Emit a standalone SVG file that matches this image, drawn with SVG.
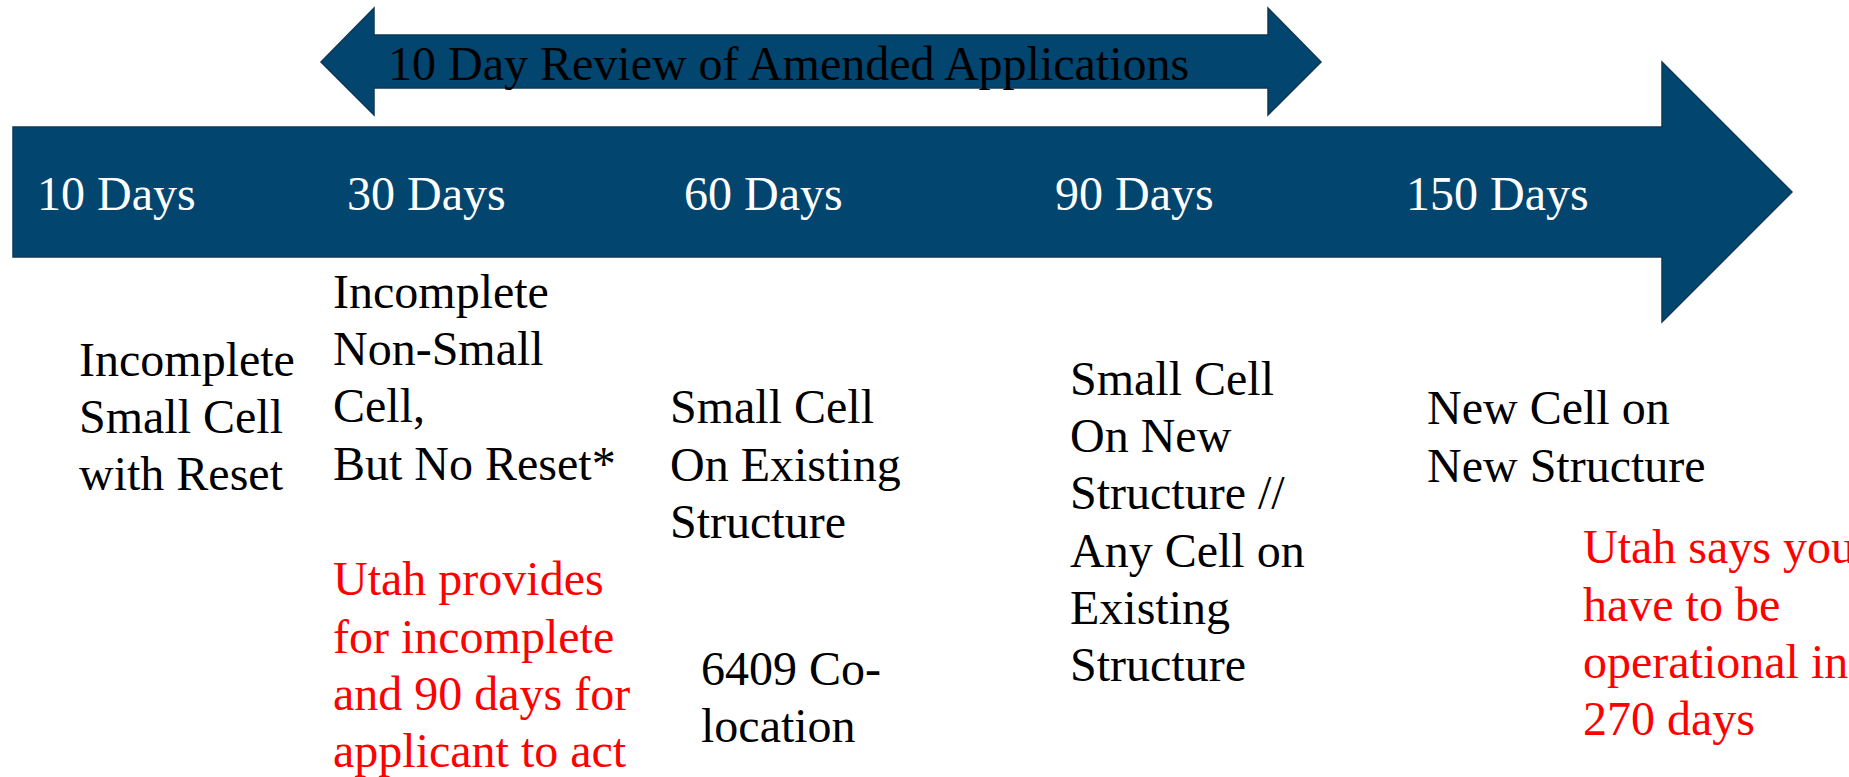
<svg xmlns="http://www.w3.org/2000/svg" width="1849" height="777" viewBox="0 0 1849 777">
<style>
.shape{fill:#02456F;stroke:#0E3858;stroke-width:1.5;stroke-linejoin:miter}
text{font-family:"Liberation Serif","Times New Roman",serif;font-size:48px}
.w{fill:#FFFFFF}
.k{fill:#000000}
.r{fill:#FF0000}
</style>
<rect width="1849" height="777" fill="#FFFFFF"/>
<g id="connectors">
<polygon id="timeline-arrow" class="shape" points="13,127 1662,127 1662,62 1792,192 1662,322 1662,257 13,257"/>
<polygon id="review-arrow" class="shape" points="321,62 374,8 374,35 1268,35 1268,8 1321,62 1268,115 1268,88 374,88 374,115"/>
</g>
<g id="review-label"><text class="k" x="388" y="80">10 Day Review of Amended Applications</text></g>
<g id="tick-10"><text class="w" x="37" y="210">10 Days</text></g>
<g id="tick-30"><text class="w" x="347" y="210">30 Days</text></g>
<g id="tick-60"><text class="w" x="684" y="210">60 Days</text></g>
<g id="tick-90"><text class="w" x="1055" y="210">90 Days</text></g>
<g id="tick-150"><text class="w" x="1406" y="210">150 Days</text></g>
<g id="node-10"><text class="k" x="79"><tspan x="79" y="376">Incomplete</tspan><tspan x="79" y="433">Small Cell</tspan><tspan x="79" y="490">with Reset</tspan></text></g>
<g id="node-30"><text class="k" x="333"><tspan x="333" y="308">Incomplete</tspan><tspan x="333" y="365">Non-Small</tspan><tspan x="333" y="422">Cell,</tspan><tspan x="333" y="480">But No Reset*</tspan></text></g>
<g id="note-30"><text class="r" x="333"><tspan x="333" y="595">Utah provides</tspan><tspan x="333" y="653">for incomplete</tspan><tspan x="333" y="710">and 90 days for</tspan><tspan x="333" y="767">applicant to act</tspan></text></g>
<g id="node-60"><text class="k" x="670"><tspan x="670" y="423">Small Cell</tspan><tspan x="670" y="481">On Existing</tspan><tspan x="670" y="538">Structure</tspan></text></g>
<g id="note-60"><text class="k" x="701"><tspan x="701" y="685">6409 Co-</tspan><tspan x="701" y="742">location</tspan></text></g>
<g id="node-90"><text class="k" x="1070"><tspan x="1070" y="395">Small Cell</tspan><tspan x="1070" y="452">On New</tspan><tspan x="1070" y="509">Structure //</tspan><tspan x="1070" y="567">Any Cell on</tspan><tspan x="1070" y="624">Existing</tspan><tspan x="1070" y="681">Structure</tspan></text></g>
<g id="node-150"><text class="k" x="1427"><tspan x="1427" y="424">New Cell on</tspan><tspan x="1427" y="482">New Structure</tspan></text></g>
<g id="note-150"><text class="r" x="1583"><tspan x="1583" y="563">Utah says you</tspan><tspan x="1583" y="621">have to be</tspan><tspan x="1583" y="678">operational in</tspan><tspan x="1583" y="735">270 days</tspan></text></g>
</svg>
